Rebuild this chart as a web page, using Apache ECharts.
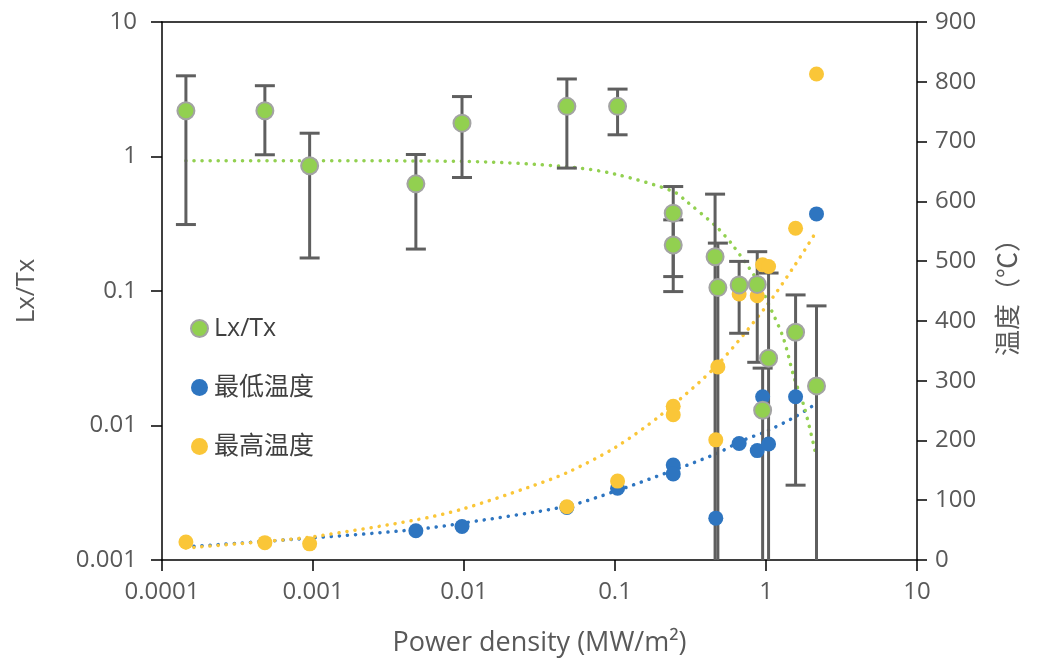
<!DOCTYPE html>
<html>
<head>
<meta charset="utf-8">
<script src="https://cdn.jsdelivr.net/npm/echarts@6/dist/echarts.min.js"></script>
<style>
html,body{margin:0;padding:0;background:#fff;}
#chart{width:1040px;height:664px;}
</style>
</head>
<body>
<div id="chart"></div>
<script>
// ---- data ----
const xTickLabels = ['0.0001','0.001','0.01','0.1','1','10'];
const leftTickLabels = ['0.001','0.01','0.1','1','10'];

// Lx/Tx points: power density, value, lower error end, upper error end
const lxX   = [1.44e-4, 4.8e-4, 9.5e-4, 4.8e-3, 9.7e-3, 0.048, 0.104, 0.243, 0.243, 0.46, 0.48, 0.664, 0.875, 0.95, 1.04, 1.57, 2.16];
const lxY   = [2.19, 2.19, 0.853, 0.626, 1.77, 2.36, 2.36, 0.379, 0.22, 0.18, 0.106, 0.111, 0.112, 0.013, 0.0316, 0.0493, 0.0197];
const lxLow = [0.312, 1.03, 0.176, 0.205, 0.698, 0.82, 1.45, 0.128, 0.099, 0.0002, 0.0002, 0.0485, 0.0295, 0.0002, 0.0002, 0.0036, 0.0002];
const lxHigh= [3.98, 3.36, 1.49, 1.035, 2.79, 3.77, 3.17, 0.598, 0.338, 0.525, 0.227, 0.166, 0.196, 0.0267, 0.136, 0.0935, 0.0775];

// 最低温度 (°C)
const minX = [0.0048, 0.0097, 0.048, 0.104, 0.243, 0.243, 0.465, 0.664, 0.875, 0.95, 1.04, 1.57, 2.16];
const minT = [49, 56, 88, 120, 159, 144, 70, 195, 183, 273, 194, 273, 579];

// 最高温度 (°C)
const maxX = [1.44e-4, 4.8e-4, 9.5e-4, 0.048, 0.104, 0.243, 0.243, 0.465, 0.48, 0.664, 0.875, 0.95, 1.04, 1.57, 2.16];
const maxT = [30, 29, 27, 89, 132, 257, 243, 201, 323, 445, 442, 494, 491, 555, 813];

// dotted trend lines
const lxTrendX = [1.44e-4, 0.001, 0.01, 0.048, 0.1, 0.243, 0.3, 0.47, 0.6, 0.875, 1.04, 1.3, 1.53, 1.8, 2.16];
const lxTrendY = [0.93, 0.93, 0.92, 0.84, 0.74, 0.55, 0.46, 0.30, 0.22, 0.12, 0.08, 0.045, 0.023, 0.0135, 0.0058];
const minTrendX = [1.44e-4, 0.001, 0.0048, 0.01, 0.048, 0.1, 0.243, 0.47, 0.7, 1.0, 1.57, 2.16];
const minTrendT = [22, 37, 51, 62, 90, 115, 150, 178, 200, 215, 240, 262];
const maxTrendX = [1.44e-4, 4.8e-4, 0.001, 0.0048, 0.0097, 0.027, 0.048, 0.1, 0.2, 0.47, 1.0, 1.57, 2.16];
const maxTrendT = [20, 31, 39, 67, 85, 122, 146, 188, 242, 325, 424, 495, 550];

const zip = (a, b) => a.map((v, i) => [v, b[i]]);
const fmt = v => String(+(+v).toPrecision(6));

const GREEN = '#92D050', BLUE = '#2E75C0', YELLOW = '#FAC638', GRAY = '#5F5F5F';
const FONT = '"Open Sans", "Noto Sans CJK SC", sans-serif';
const dotted = (c) => ({ color: c, width: 3.5, type: [0.1, 8], cap: 'round' });

const chart = echarts.init(document.getElementById('chart'), null, { renderer: 'canvas' });
chart.setOption({
  animation: false,
  backgroundColor: '#fff',
  textStyle: { fontFamily: FONT },
  grid: { left: 162, right: 123, top: 22, bottom: 104, containLabel: false },
  legend: {
    data: ['Lx/Tx', '最低温度', '最高温度'],
    orient: 'vertical', left: 185, top: 311,
    itemWidth: 17, itemHeight: 17, itemGap: 34,
    icon: 'circle',
    textStyle: { fontSize: 25, color: '#404040', fontFamily: FONT, padding: [0, 0, 0, 1] }
  },
  xAxis: [{
    type: 'log', logBase: 10, min: 0.0001, max: 10,
    name: 'Power density (MW/m²)', nameLocation: 'middle', nameGap: 70,
    nameTextStyle: { fontSize: 27, color: '#595959', fontFamily: FONT },
    axisLine: { show: true, lineStyle: { color: '#000', width: 1.5 } },
    axisTick: { show: true, length: 11, inside: false, lineStyle: { color: '#000', width: 1.5 } },
    minorTick: { show: false },
    splitLine: { show: false },
    axisLabel: { fontSize: 24, color: '#595959', margin: 20, fontFamily: FONT,
      formatter: v => { const s = fmt(v); return xTickLabels.includes(s) ? s : ''; } }
  }, {
    type: 'log', logBase: 10, min: 0.0001, max: 10, position: 'top',
    axisLine: { show: true, onZero: false, lineStyle: { color: '#000', width: 1.5 } },
    axisTick: { show: false }, axisLabel: { show: false }, splitLine: { show: false }
  }],
  yAxis: [{
    type: 'log', logBase: 10, min: 0.001, max: 10, position: 'left',
    name: 'Lx/Tx', nameLocation: 'middle', nameGap: 122, nameRotate: 90,
    nameTextStyle: { fontSize: 26, color: '#595959', fontFamily: FONT },
    axisLine: { show: true, lineStyle: { color: '#000', width: 1.5 } },
    axisTick: { show: true, length: 11, lineStyle: { color: '#000', width: 1.5 } },
    splitLine: { show: false },
    axisLabel: { fontSize: 24, color: '#595959', margin: 25, fontFamily: FONT,
      formatter: v => { const s = fmt(v); return leftTickLabels.includes(s) ? s : ''; } }
  }, {
    type: 'value', min: 0, max: 900, interval: 100, position: 'right',
    name: '温度（℃）', nameLocation: 'middle', nameGap: 80, nameRotate: 90,
    nameTextStyle: { fontSize: 26, color: '#595959', fontFamily: FONT },
    axisLine: { show: true, lineStyle: { color: '#000', width: 1.5 } },
    axisTick: { show: true, length: 10, lineStyle: { color: '#000', width: 1.5 } },
    splitLine: { show: false },
    axisLabel: { fontSize: 24, color: '#595959', margin: 18, fontFamily: FONT }
  }],
  series: [
    { name: 'minTrend', type: 'line', xAxisIndex: 0, yAxisIndex: 1, data: zip(minTrendX, minTrendT),
      showSymbol: false, smooth: 0.3, lineStyle: dotted(BLUE), z: 1, silent: true },
    { name: 'maxTrend', type: 'line', xAxisIndex: 0, yAxisIndex: 1, data: zip(maxTrendX, maxTrendT),
      showSymbol: false, smooth: 0.3, lineStyle: dotted(YELLOW), z: 1, silent: true },
    { name: 'lxTrend', type: 'line', xAxisIndex: 0, yAxisIndex: 0, data: zip(lxTrendX, lxTrendY),
      showSymbol: false, smooth: 0.3, lineStyle: dotted(GREEN), z: 1, silent: true },
    { name: 'errbars', type: 'custom', xAxisIndex: 0, yAxisIndex: 0, clip: true, z: 2,
      data: lxX.map((x, i) => [x, lxLow[i], lxHigh[i]]),
      encode: { x: 0, y: [1, 2] },
      renderItem: (params, api) => {
        const x = api.value(0);
        const pHi = api.coord([x, api.value(2)]);
        const pLo = api.coord([x, api.value(1)]);
        const w = 10;
        const st = { stroke: GRAY, lineWidth: 3 };
        return { type: 'group', children: [
          { type: 'line', shape: { x1: pHi[0], y1: pHi[1], x2: pLo[0], y2: pLo[1] }, style: st },
          { type: 'line', shape: { x1: pHi[0] - w, y1: pHi[1], x2: pHi[0] + w, y2: pHi[1] }, style: st },
          { type: 'line', shape: { x1: pLo[0] - w, y1: pLo[1], x2: pLo[0] + w, y2: pLo[1] }, style: st }
        ]};
      } },
    { name: '最低温度', type: 'scatter', xAxisIndex: 0, yAxisIndex: 1, data: zip(minX, minT),
      symbol: 'circle', symbolSize: 15, itemStyle: { color: BLUE, opacity: 1 }, z: 3 },
    { name: '最高温度', type: 'scatter', xAxisIndex: 0, yAxisIndex: 1, data: zip(maxX, maxT),
      symbol: 'circle', symbolSize: 15, itemStyle: { color: YELLOW, opacity: 1 }, z: 3 },
    { name: 'Lx/Tx', type: 'scatter', xAxisIndex: 0, yAxisIndex: 0, data: zip(lxX, lxY),
      symbol: 'circle', symbolSize: 17,
      itemStyle: { color: GREEN, borderColor: '#A3A3A3', borderWidth: 2, opacity: 1 }, z: 4 }
  ]
});
</script>
</body>
</html>
